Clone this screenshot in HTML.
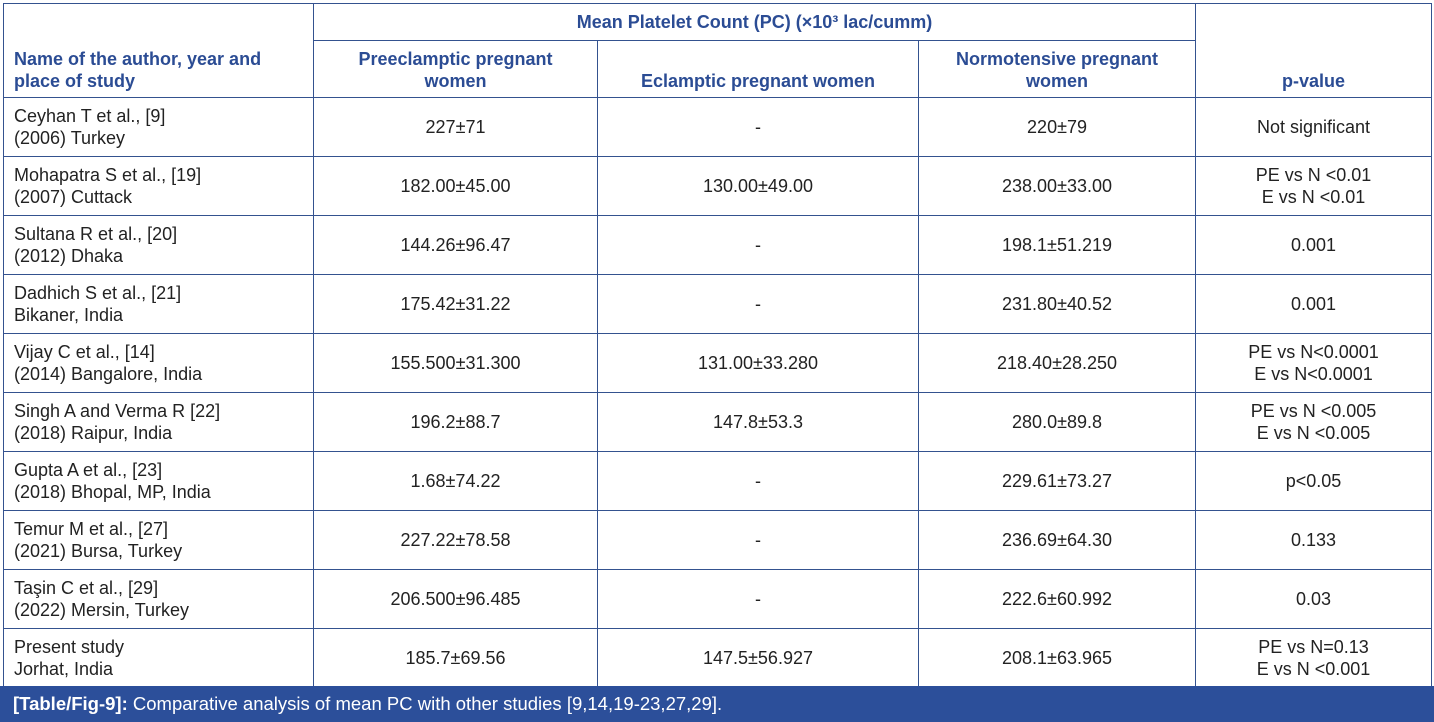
<!DOCTYPE html>
<html><head><meta charset="utf-8"><style>
body{margin:0;width:1434px;height:722px;background:#fff;overflow:hidden;font-family:"Liberation Sans",sans-serif;}
table{position:absolute;left:3px;top:3px;border-collapse:collapse;table-layout:fixed;width:1428px;}
td,th{border:1.5px solid #34528f;font-size:18px;color:#222;text-align:center;padding:0 10px;line-height:22px;font-weight:normal;}
th{color:#2b4c94;font-weight:bold;font-size:18px;}
td:first-child{text-align:left;}
tr.d td{height:58px;}
.cap{position:absolute;left:0;top:686px;width:1434px;height:36px;background:#2c4f9a;color:#fff;font-size:18.5px;line-height:36px;padding-left:13px;box-sizing:border-box;}
</style></head><body>
<table>
<colgroup><col style="width:310px"><col style="width:284px"><col style="width:321px"><col style="width:277px"><col style="width:236px"></colgroup>
<tr style="height:37px"><th rowspan="2" style="text-align:left;vertical-align:bottom;padding-bottom:5px">Name of the author, year and<br>place of study</th><th colspan="3">Mean Platelet Count (PC) (×10³ lac/cumm)</th><th rowspan="2" style="vertical-align:bottom;padding-bottom:5px">p-value</th></tr>
<tr style="height:57px"><th style="vertical-align:bottom;padding-bottom:5px">Preeclamptic pregnant<br>women</th><th style="vertical-align:bottom;padding-bottom:5px">Eclamptic pregnant women</th><th style="vertical-align:bottom;padding-bottom:5px">Normotensive pregnant<br>women</th></tr>
<tr class="d"><td>Ceyhan T et al., [9]<br>(2006) Turkey</td><td>227±71</td><td>-</td><td>220±79</td><td>Not significant</td></tr>
<tr class="d"><td>Mohapatra S et al., [19]<br>(2007) Cuttack</td><td>182.00±45.00</td><td>130.00±49.00</td><td>238.00±33.00</td><td>PE vs N &lt;0.01<br>E vs N &lt;0.01</td></tr>
<tr class="d"><td>Sultana R et al., [20]<br>(2012) Dhaka</td><td>144.26±96.47</td><td>-</td><td>198.1±51.219</td><td>0.001</td></tr>
<tr class="d"><td>Dadhich S et al., [21]<br>Bikaner, India</td><td>175.42±31.22</td><td>-</td><td>231.80±40.52</td><td>0.001</td></tr>
<tr class="d"><td>Vijay C et al., [14]<br>(2014) Bangalore, India</td><td>155.500±31.300</td><td>131.00±33.280</td><td>218.40±28.250</td><td>PE vs N&lt;0.0001<br>E vs N&lt;0.0001</td></tr>
<tr class="d"><td>Singh A and Verma R [22]<br>(2018) Raipur, India</td><td>196.2±88.7</td><td>147.8±53.3</td><td>280.0±89.8</td><td>PE vs N &lt;0.005<br>E vs N &lt;0.005</td></tr>
<tr class="d"><td>Gupta A et al., [23]<br>(2018) Bhopal, MP, India</td><td>1.68±74.22</td><td>-</td><td>229.61±73.27</td><td>p&lt;0.05</td></tr>
<tr class="d"><td>Temur M et al., [27]<br>(2021) Bursa, Turkey</td><td>227.22±78.58</td><td>-</td><td>236.69±64.30</td><td>0.133</td></tr>
<tr class="d"><td>Taşin C et al., [29]<br>(2022) Mersin, Turkey</td><td>206.500±96.485</td><td>-</td><td>222.6±60.992</td><td>0.03</td></tr>
<tr class="d"><td>Present study<br>Jorhat, India</td><td>185.7±69.56</td><td>147.5±56.927</td><td>208.1±63.965</td><td>PE vs N=0.13<br>E vs N &lt;0.001</td></tr>
</table>
<div class="cap"><b>[Table/Fig-9]:</b> Comparative analysis of mean PC with other studies [9,14,19-23,27,29].</div>
</body></html>
